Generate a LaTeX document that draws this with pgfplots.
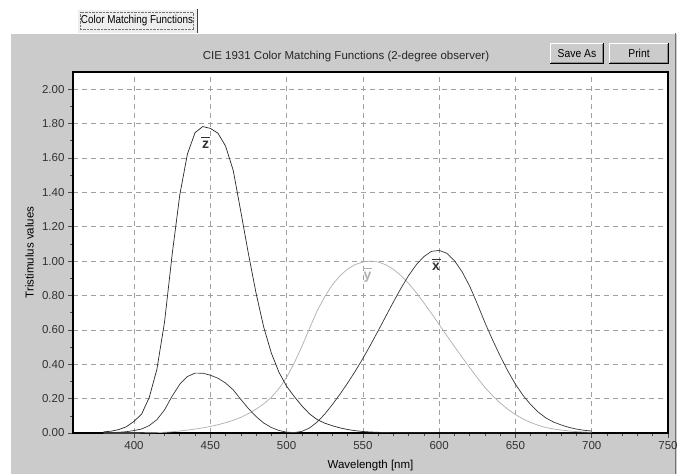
\documentclass[border=0pt]{standalone}
\usepackage{fontspec}
\setmainfont{Liberation Sans}
\usepackage{pgfplots}
\usepackage{pgfplotstable}
\pgfplotsset{compat=1.18}

\definecolor{panel}{RGB}{203,203,203}
\definecolor{tabfill}{RGB}{238,238,238}
\definecolor{gridc}{RGB}{160,160,160}
\definecolor{labc}{RGB}{50,50,50}
\definecolor{xbarc}{RGB}{55,55,55}
\definecolor{ybarc}{RGB}{175,175,175}
\definecolor{zbarc}{RGB}{40,40,40}

% CIE 1931 2-degree colour matching functions, 5 nm steps
\pgfplotstableread{
nm  x        y        z
380 0.001368 0.000039 0.006450
385 0.002236 0.000064 0.010550
390 0.004243 0.000120 0.020050
395 0.007650 0.000217 0.036210
400 0.014310 0.000396 0.067850
405 0.023190 0.000640 0.110200
410 0.043510 0.001210 0.207400
415 0.077630 0.002180 0.371300
420 0.134380 0.004000 0.645600
425 0.214770 0.007300 1.039050
430 0.283900 0.011600 1.385600
435 0.328500 0.016840 1.622960
440 0.348280 0.023000 1.747060
445 0.348060 0.029800 1.782600
450 0.336200 0.038000 1.772110
455 0.318700 0.048000 1.744100
460 0.290800 0.060000 1.669200
465 0.251100 0.073900 1.528100
470 0.195360 0.090980 1.287640
475 0.142100 0.112600 1.041900
480 0.095640 0.139020 0.812950
485 0.057950 0.169300 0.616200
490 0.032010 0.208020 0.465180
495 0.014700 0.258600 0.353300
500 0.004900 0.323000 0.272000
505 0.002400 0.407300 0.212300
510 0.009300 0.503000 0.158200
515 0.029100 0.608200 0.111700
520 0.063270 0.710000 0.078250
525 0.109600 0.793200 0.057250
530 0.165500 0.862000 0.042160
535 0.225750 0.914850 0.029840
540 0.290400 0.954000 0.020300
545 0.359700 0.980300 0.013400
550 0.433450 0.994950 0.008750
555 0.512050 1.000000 0.005750
560 0.594500 0.995000 0.003900
565 0.678400 0.978600 0.002750
570 0.762100 0.952000 0.002100
575 0.842500 0.915400 0.001800
580 0.916300 0.870000 0.001650
585 0.978600 0.816300 0.001400
590 1.026300 0.757000 0.001100
595 1.056700 0.694900 0.001000
600 1.062200 0.631000 0.000800
605 1.045600 0.566800 0.000600
610 1.002600 0.503000 0.000340
615 0.938400 0.441200 0.000240
620 0.854450 0.381000 0.000190
625 0.751400 0.321000 0.000100
630 0.642400 0.265000 0.000050
635 0.541900 0.217000 0.000030
640 0.447900 0.175000 0.000020
645 0.360800 0.138200 0.000010
650 0.283500 0.107000 0.000000
655 0.218700 0.081600 0.000000
660 0.164900 0.061000 0.000000
665 0.121200 0.044580 0.000000
670 0.087400 0.032000 0.000000
675 0.063600 0.023200 0.000000
680 0.046770 0.017000 0.000000
685 0.032900 0.011920 0.000000
690 0.022700 0.008210 0.000000
695 0.015840 0.005723 0.000000
700 0.011359 0.004102 0.000000
}\cmf

\newcommand{\uifont}{\fontsize{11.5}{13}\selectfont}
\newcommand{\barlab}[1]{\shortstack[c]{\rule{9pt}{1.6pt}\\[-0.5pt]#1}}

\begin{document}
\begin{tikzpicture}[x=1pt,y=1pt]
\useasboundingbox (0,0) rectangle (677,474);
\fill[white] (0,0) rectangle (677,474);
% window panel
\fill[panel] (11,0) rectangle (677,441);
\draw[white, line width=1.2] (11,441) -- (677,441);
\draw[black!55, line width=1] (675.5,0) -- (675.5,441);
% tab
\fill[tabfill] (77,441) rectangle (197,465);
\draw[white, line width=1] (77.5,441) -- (77.5,464.5) -- (196,464.5);
\draw[black!75, line width=1] (197,465) -- (197,441);
\draw[black!55, densely dotted] (80.5,444.5) rectangle (193.5,461.5);
\node[font=\uifont] at (137,453) {\scalebox{0.86}[1]{Color Matching Functions}};
\begin{axis}[
  at={(73pt,41pt)}, anchor=south west,
  scale only axis,
  width=595pt, height=361pt,
  xmin=360, xmax=750,
  ymin=0, ymax=2.1,
  xtick={400,450,...,750},
  ytick={0,0.2,...,2.01},
  minor x tick num=4,
  minor y tick num=1,
  tick align=outside,
  major tick length=5pt,
  minor tick length=3pt,
  tick style={black!70, line width=0.6pt},
  xtick pos=bottom, ytick pos=left,
  axis background/.style={fill=white},
  axis line style={black, line width=1.2pt},
  grid=major,
  grid style={gridc, dash pattern=on 5pt off 4pt, line width=0.6pt},
  ticklabel style={font=\uifont, text=labc},
  /pgf/number format/assume math mode=true,
  yticklabel style={/pgf/number format/.cd, fixed, fixed zerofill, precision=2},
  xticklabel style={/pgf/number format/.cd, fixed, 1000 sep={}},
  xlabel={Wavelength [nm]},
  ylabel={Tristimulus values},
  xlabel style={font=\uifont, at={(axis description cs:0.5,-0.09)}, anchor=center},
  ylabel style={font=\uifont, at={(axis description cs:-0.073,0.5)}, anchor=center},
  clip=true,
]
\addplot[ybarc, line width=0.7pt] table[x=nm, y=y] {\cmf};
\addplot[xbarc, line width=0.7pt] table[x=nm, y=x] {\cmf};
\addplot[zbarc, line width=0.7pt] table[x=nm, y=z] {\cmf};
\node[text=labc, font=\fontsize{14}{16}\selectfont\bfseries] at (axis cs:447,1.69) {\barlab{z}};
\node[text=ybarc, font=\fontsize{14}{16}\selectfont\bfseries] at (axis cs:553,0.92) {\barlab{y}};
\node[text=labc, font=\fontsize{14}{16}\selectfont\bfseries] at (axis cs:598,0.98) {\barlab{x}};
\end{axis}
% title
\node[font=\uifont, text=black!85] at (346,417) {CIE 1931 Color Matching Functions (2-degree observer)};
% buttons
\foreach \xa/\xb/\lab in {550/604/Save As, 609/669/Print} {
  \fill[panel] (\xa,410) rectangle (\xb,431);
  \draw[white, line width=1] (\xa+0.5,410) -- (\xa+0.5,430.5) -- (\xb-1,430.5);
  \draw[black, line width=1] (\xa,410.5) -- (\xb-0.5,410.5) -- (\xb-0.5,431);
  \draw[black!45, line width=1] (\xa+1,411.5) -- (\xb-1.5,411.5) -- (\xb-1.5,430);
  \node[font=\uifont] at ({(\xa+\xb)/2},420.5) {\scalebox{0.9}[1]{\lab}};
}
\end{tikzpicture}
\end{document}
